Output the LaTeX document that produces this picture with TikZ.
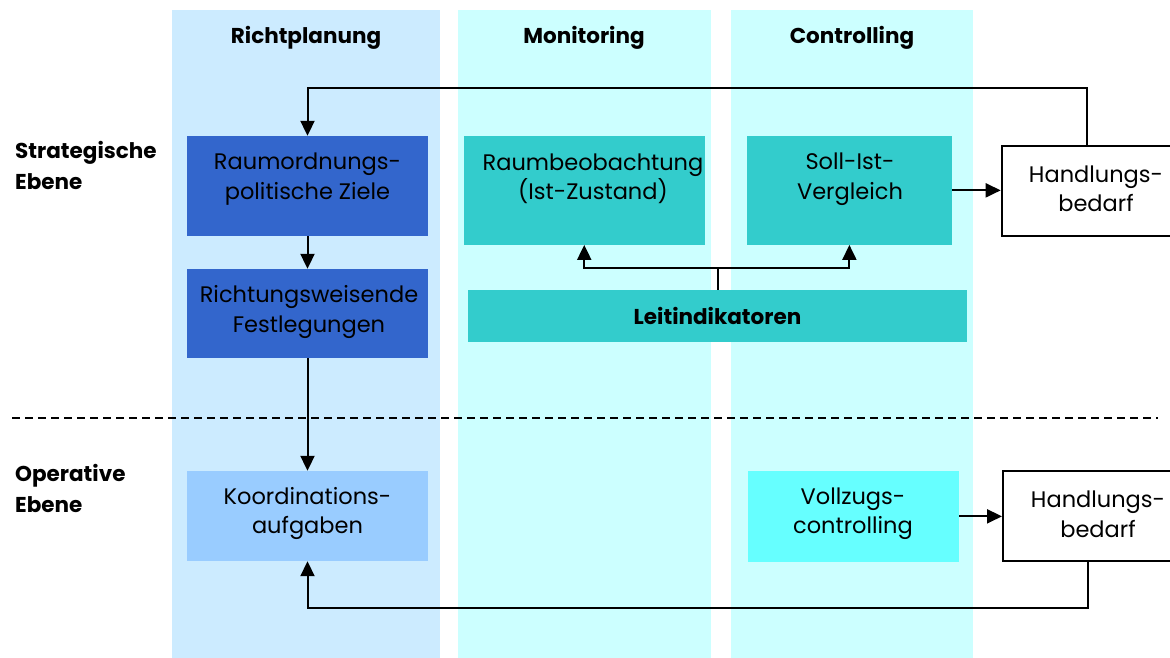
\documentclass[tikz,border=0pt]{standalone}
\usepackage{fontspec}
\setmainfont{Poppins}
\usetikzlibrary{arrows.meta}
\definecolor{colRP}{HTML}{CCEBFF}
\definecolor{colMC}{HTML}{CCFFFF}
\definecolor{colDark}{HTML}{3366CC}
\definecolor{colTeal}{HTML}{33CCCC}
\definecolor{colLight}{HTML}{99CCFF}
\definecolor{colCyan}{HTML}{66FFFF}
\tikzset{
  column/.style={fill=#1, draw=none},
  box/.style={fill=#1, draw=none, inner sep=0pt, minimum width=\boxw, minimum height=\boxh},
  txt/.style={align=center, font=\fontsize{22.5}{29.5}\selectfont, inner sep=0pt, text=black},
  head/.style={font=\fontsize{21.5}{26}\selectfont\bfseries, inner sep=0pt},
  side/.style={font=\fontsize{21.5}{31}\selectfont\bfseries, align=left, inner sep=0pt, anchor=west},
  hbox/.style={draw=black, line width=2pt, fill=white, inner sep=0pt},
  conn/.style={line width=2pt},
  arr/.style={line width=2pt, -{Triangle[length=15pt,width=14pt]}},
}
\newlength\boxw \newlength\boxh
\begin{document}
\begin{tikzpicture}[x=1pt,y=-1pt]
\clip (0,0) rectangle (1170,657);
\fill[white] (0,0) rectangle (1170,657);
% columns
\fill[column=colRP] (172,10) rectangle (440,660);
\fill[column=colMC] (458,10) rectangle (711,660);
\fill[column=colMC] (731,10) rectangle (973,660);
\node[head] (hRP) at (306,38) {Richtplanung};
\node[head] (hMO) at (584,38) {Monitoring};
\node[head] (hCO) at (852,38) {Controlling};
% side labels
\node[side] (strat) at (15,165) {Strategische\\Ebene};
\node[side] (oper) at (15,488) {Operative\\Ebene};
% dashed separator
\coordinate (dl) at (12,417.7);
\coordinate (dr) at (1158,417.7);
\draw[line width=1.6pt, dash pattern=on 8pt off 5pt] (dl) -- (dr);
% boxes
\setlength\boxw{241pt}\setlength\boxh{100pt}
\node[box=colDark] (ziele) at (307.5,186) {};
\setlength\boxh{89pt}
\node[box=colDark] (festl) at (307.5,313.5) {};
\setlength\boxh{90pt}
\node[box=colLight] (koord) at (307.5,516) {};
\setlength\boxw{240.5pt}\setlength\boxh{108.7pt}
\node[box=colTeal] (raum) at (584.25,190.35) {};
\setlength\boxw{205.2pt}
\node[box=colTeal] (soll) at (849.4,190.35) {};
\setlength\boxw{499pt}\setlength\boxh{51.7pt}
\node[box=colTeal] (leit) at (717.5,315.85) {};
\setlength\boxw{211pt}\setlength\boxh{90.7pt}
\node[box=colCyan] (vollz) at (853.5,516.35) {};
\node[hbox, minimum width=190pt, minimum height=89.7pt] (hb1) at (1096.7,190.85) {};
\node[hbox, minimum width=190pt, minimum height=89.7pt] (hb2) at (1098,515.85) {};
% texts
\node[txt] (tziele) at (307.5,179) {Raumordnungs-\\politische Ziele};
\node[txt] (tfestl) at (309,312) {Richtungsweisende\\Festlegungen};
\node[txt] (tkoord) at (307.5,513.5) {Koordinations-\\aufgaben};
\node[txt] (traum) at (593,179) {Raumbeobachtung\\(Ist-Zustand)};
\node[txt] (tsoll) at (850,179) {Soll-Ist-\\Vergleich};
\node[txt] (tvollz) at (853,513.5) {Vollzugs-\\controlling};
\node[txt] (thb1) at (1096,189) {Handlungs-\\bedarf};
\node[txt] (thb2) at (1098,514.5) {Handlungs-\\bedarf};
\node[head] (tleit) at (717.5,316) {Leitindikatoren};
% connectors
\draw[arr] (ziele.south) -- (festl.north);
\draw[arr] (festl.south) -- (koord.north);
\draw[arr] (soll.east) -- (soll.east -| hb1.west);
\draw[arr] (vollz.east) -- (vollz.east -| hb2.west);
\coordinate (ctop) at (1087,88);
\draw[arr] (ctop |- hb1.north) -- (ctop) -| (ziele.north);
\coordinate (cbot) at (1088,608);
\draw[arr] (cbot |- hb2.south) -- (cbot) -| (koord.south);
\coordinate (cj) at (717.5,267.7);
\draw[conn] (leit.north) -- (cj);
\draw[arr] (cj) -| (raum.south);
\draw[arr] (cj) -| (soll.south);
\end{tikzpicture}
\end{document}
